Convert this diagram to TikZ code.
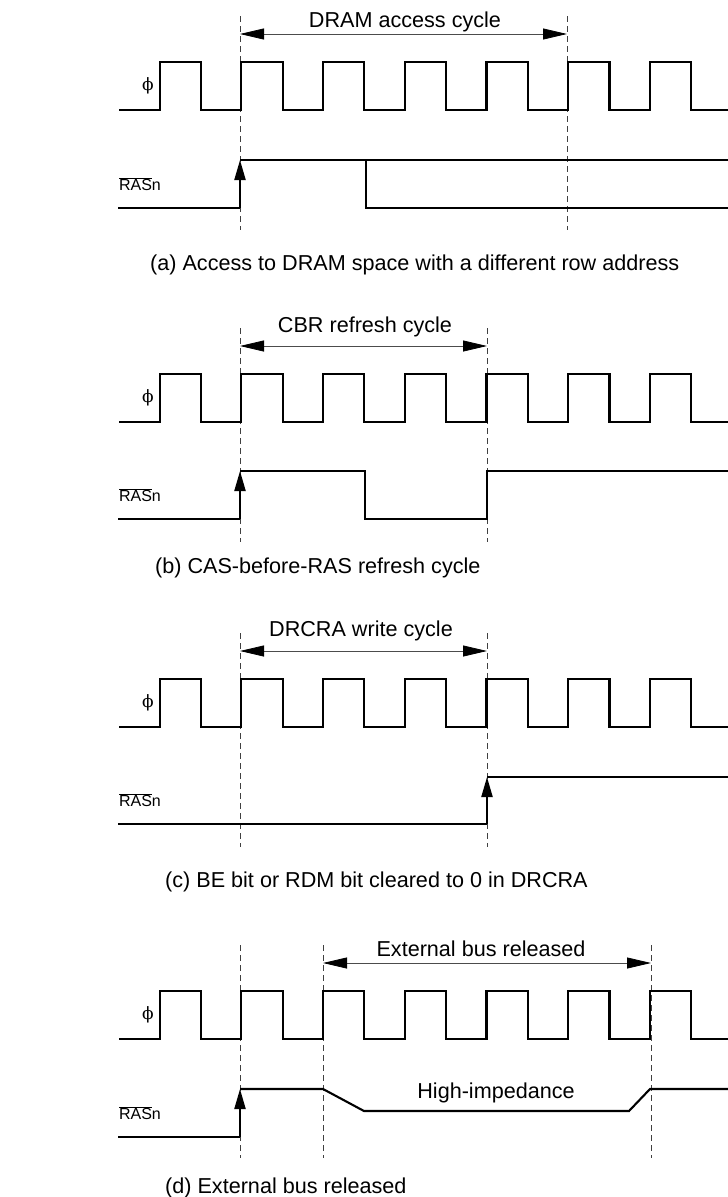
\documentclass[tikz,border=0pt]{standalone}
\usepackage{fontspec}
\setmainfont{Liberation Sans}
\newfontfamily\phifont{DejaVu Serif}
\usetikzlibrary{arrows.meta}
\newcommand\clockwave[1]{%
  \draw[wave] (119,{#1+48})
    \foreach \k in {0,...,6}{ -- ({159.7+81.7*\k},{#1+48}) -- ({159.7+81.7*\k},#1)
      -- ({201+81.7*\k},#1) -- ({201+81.7*\k},{#1+48}) }
    -- (728,{#1+48});}
\tikzset{
  wave/.style={line width=2.1pt, line join=miter},
  guide/.style={line width=0.9pt, black!75, dash pattern=on 6pt off 4pt},
  dim/.style={line width=0.8pt, black!70,
    {Triangle[length=24pt,width=11pt,black]}-{Triangle[length=24pt,width=11pt,black]}},
  edgearrow/.style={line width=2.1pt, -{Triangle[length=20pt,width=11pt]}},
  lbl/.style={font=\fontsize{21.6}{25}\selectfont, inner sep=0pt},
  sig/.style={font=\fontsize{16}{19}\selectfont, inner sep=0pt},
  phil/.style={font=\fontsize{17}{20}\selectfont\phifont, inner sep=0pt},
}
\begin{document}
\begin{tikzpicture}[x=1pt,y=-1pt]
\useasboundingbox (0,0) rectangle (728,1197);
% ---------------- (a)
\node[lbl,anchor=base] (ta) at (405,27) {DRAM access cycle};
\coordinate (a1) at (240,34); \coordinate (a2) at (567,34);
\draw[dim] (a1) -- (a2);
\draw[guide] (240,16) -- (240,230);
\draw[guide] (567,16) -- (567,230);
\clockwave{62}
\draw[wave] (118,208) -- (240,208);
\draw[edgearrow] (240,208) -- (240,160);
\draw[wave] (240,160) -- (728,160);
\draw[wave] (366,160) -- (366,208) -- (728,208);
\node[phil] (pa) at (148,86) {ϕ};
\node[sig] (ra) at (140,184) {$\overline{\hbox{RAS}}$n};
\node[lbl,anchor=base west] (ca) at (150,270) {(a) Access to DRAM space with a different row address};
% ---------------- (b)
\node[lbl,anchor=base] (tb) at (365,332) {CBR refresh cycle};
\coordinate (b1) at (240,346); \coordinate (b2) at (487,346);
\draw[dim] (b1) -- (b2);
\draw[guide] (240,328) -- (240,542);
\draw[guide] (487,328) -- (487,542);
\clockwave{374}
\draw[wave] (118,519) -- (240,519);
\draw[edgearrow] (240,519) -- (240,471);
\draw[wave] (240,471) -- (365,471) -- (365,519) -- (487,519) -- (487,471) -- (728,471);
\node[phil] (pb) at (148,398) {ϕ};
\node[sig] (rb) at (140,495) {$\overline{\hbox{RAS}}$n};
\node[lbl,anchor=base west] (cb) at (155,573) {(b) CAS-before-RAS refresh cycle};
% ---------------- (c)
\node[lbl,anchor=base] (tc) at (361,636) {DRCRA write cycle};
\coordinate (c1) at (240,651); \coordinate (c2) at (487,651);
\draw[dim] (c1) -- (c2);
\draw[guide] (240,633) -- (240,847);
\draw[guide] (487,633) -- (487,847);
\clockwave{679}
\draw[wave] (118,824) -- (487,824);
\draw[edgearrow] (487,824) -- (487,777);
\draw[wave] (487,777) -- (728,777);
\node[phil] (pc) at (148,703) {ϕ};
\node[sig] (rc) at (140,800) {$\overline{\hbox{RAS}}$n};
\node[lbl,anchor=base west] (cc) at (165,887) {(c) BE bit or RDM bit cleared to 0 in DRCRA};
% ---------------- (d)
\node[lbl,anchor=base] (td) at (481,956) {External bus released};
\coordinate (d1) at (323,963); \coordinate (d2) at (651,963);
\draw[dim] (d1) -- (d2);
\draw[guide] (240,945) -- (240,1158);
\draw[guide] (323,945) -- (323,1158);
\draw[guide] (651,945) -- (651,1158);
\clockwave{991}
\draw[wave] (118,1137) -- (240,1137);
\draw[edgearrow] (240,1137) -- (240,1089);
\draw[wave] (240,1089) -- (323,1089) -- (364,1111) -- (629,1111) -- (650,1089) -- (728,1089);
\node[lbl,anchor=base] (hz) at (496,1098) {High-impedance};
\node[phil] (pd) at (148,1015) {ϕ};
\node[sig] (rd) at (140,1113) {$\overline{\hbox{RAS}}$n};
\node[lbl,anchor=base west] (cd) at (165,1193) {(d) External bus released};
\end{tikzpicture}
\end{document}
